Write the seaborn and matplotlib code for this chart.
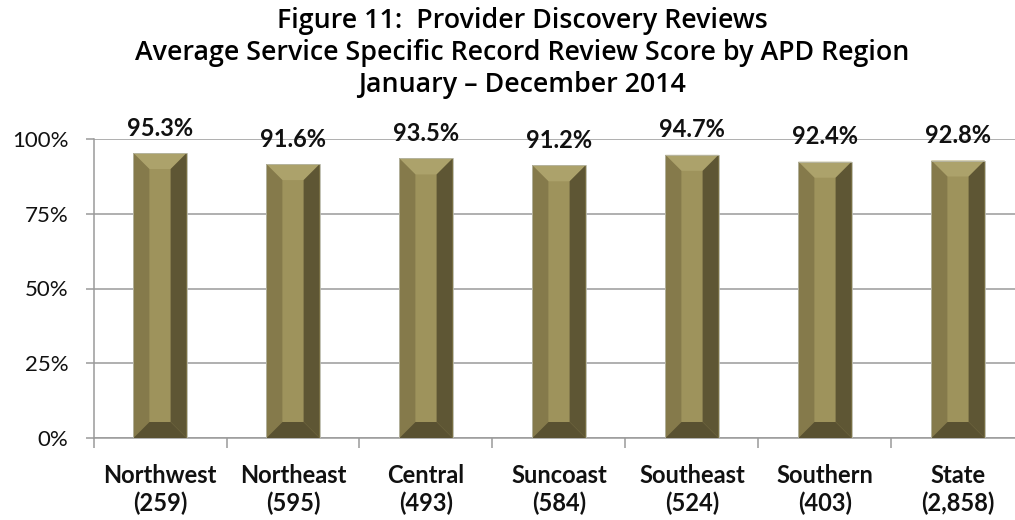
import matplotlib
matplotlib.use("Agg")
import matplotlib.pyplot as plt
from matplotlib.patches import Polygon
import seaborn as sns
import pandas as pd
import numpy as np

regions = ["Northwest", "Northeast", "Central", "Suncoast", "Southeast", "Southern", "State"]
counts = ["259", "595", "493", "584", "524", "403", "2,858"]
scores = [95.3, 91.6, 93.5, 91.2, 94.7, 92.4, 92.8]
title_lines = ["Figure 11:  Provider Discovery Reviews",
               "Average Service Specific Record Review Score by APD Region",
               "January \u2013 December 2014"]

sns.set_theme(style="white")
plt.rcParams['font.family'] = ['Lato', 'DejaVu Sans']

df = pd.DataFrame({"region": regions, "score": scores})

fig = plt.figure(figsize=(10.15, 5.2), dpi=100)
ax = fig.add_axes([93.5 / 1015, 82 / 520, 931 / 1015, 299 / 520])

face = "#9e935c"
sns.barplot(data=df, x="region", y="score", color=face, width=0.4,
            saturation=1, ax=ax, zorder=3, edgecolor="none")

ax.set_ylim(0, 100)
ax.set_xlim(-0.5, len(regions) - 0.5)
ax.set_yticks([0, 25, 50, 75, 100])
ax.set_yticklabels(["0%", "25%", "50%", "75%", "100%"], fontsize=16, color="#111111")
ax.yaxis.grid(True, color="#9a9a9a", linewidth=1.1, zorder=0)
ax.set_axisbelow(True)
for s in ["top", "right"]:
    ax.spines[s].set_visible(False)
for s in ["left", "bottom"]:
    ax.spines[s].set_color("#9a9a9a")
    ax.spines[s].set_linewidth(1.1)
ax.tick_params(axis="y", which="both", left=True, length=6, width=1.1, color="#9a9a9a", pad=12)

# x category labels
ax.set_xticks(range(len(regions)))
ax.set_xticklabels([f"{r}\n({c})" for r, c in zip(regions, counts)],
                   fontsize=17, fontweight="bold", color="#111111", linespacing=1.2)
ax.tick_params(axis="x", which="major", length=0, pad=19)
ax.set_xticks(np.arange(-0.5, len(regions), 1), minor=True)
ax.tick_params(axis="x", which="minor", bottom=True, length=7, width=1.1, color="#9a9a9a")
ax.set_xlabel("")
ax.set_ylabel("")

# bevel overlays
bx = 16 / (931 / 7)   # bevel in data x units
by = 16 / 299 * 100   # bevel in data y units
for p in list(ax.patches):
    x0 = p.get_x(); w = p.get_width(); h = p.get_height()
    x1 = x0 + w
    top = Polygon([[x0, h], [x1, h], [x1 - bx, h - by], [x0 + bx, h - by]],
                  closed=True, facecolor="#aca26b", edgecolor="none", zorder=4)
    left = Polygon([[x0, 0], [x0, h], [x0 + bx, h - by], [x0 + bx, by]],
                   closed=True, facecolor="#857a4b", edgecolor="none", zorder=4)
    right = Polygon([[x1, 0], [x1, h], [x1 - bx, h - by], [x1 - bx, by]],
                    closed=True, facecolor="#5e5634", edgecolor="none", zorder=4)
    bottom = Polygon([[x0, 0], [x1, 0], [x1 - bx, by], [x0 + bx, by]],
                     closed=True, facecolor="#595131", edgecolor="none", zorder=4)
    for poly in (top, left, right, bottom):
        ax.add_patch(poly)
    ax.add_patch(plt.Rectangle((x0, 0), w, h, fill=False, edgecolor="#b8b8a8",
                               linewidth=0.6, zorder=5))

for i, v in enumerate(scores):
    ax.annotate(f"{v:.1f}%", (i, v), xytext=(0, 18), textcoords="offset points",
                ha="center", va="center", fontsize=17, fontweight="bold",
                color="#111111", annotation_clip=False, zorder=6)

fig.text(522 / 1015, 1 - 7 / 520, "\n".join(title_lines), ha="center", va="top",
         fontsize=19.3, family=["Open Sans", "DejaVu Sans"], fontweight="semibold",
         linespacing=1.2, color="#000000")

fig.savefig("out.png", dpi=100)
